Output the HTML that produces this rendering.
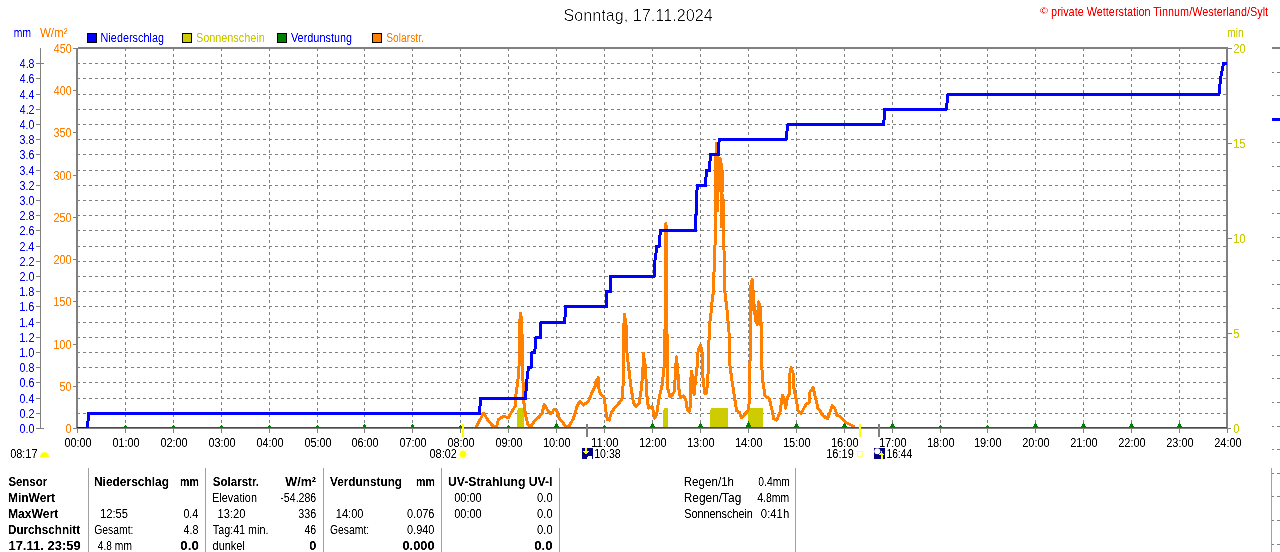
<!DOCTYPE html>
<html lang="de">
<head>
<meta charset="utf-8">
<title>Sonntag, 17.11.2024 - private Wetterstation Tinnum/Westerland/Sylt</title>
<style>
html,body{margin:0;padding:0;background:#fff;}
body{width:1280px;height:552px;overflow:hidden;}
svg{display:block;}
text{white-space:pre;}
</style>
</head>
<body>
<svg width="1280" height="552" viewBox="0 0 1280 552">
<defs><filter id="crisp" x="0" y="0" width="1280" height="552" filterUnits="userSpaceOnUse" color-interpolation-filters="sRGB"><feComponentTransfer><feFuncA type="table" tableValues="0 0.05 0.55 1 1"/></feComponentTransfer></filter><filter id="crisp2" x="0" y="0" width="1280" height="552" filterUnits="userSpaceOnUse" color-interpolation-filters="sRGB"><feComponentTransfer><feFuncA type="table" tableValues="0 0 0.02 0.6 1"/></feComponentTransfer></filter></defs>
<rect width="1280" height="552" fill="#fff"/>
<g shape-rendering="crispEdges">
<g stroke="#808080" stroke-width="1" stroke-dasharray="3 3" fill="none">
<path d="M77 413.5H1226"/>
<path d="M77 398.5H1226"/>
<path d="M77 382.5H1226"/>
<path d="M77 367.5H1226"/>
<path d="M77 352.5H1226"/>
<path d="M77 337.5H1226"/>
<path d="M77 322.5H1226"/>
<path d="M77 306.5H1226"/>
<path d="M77 291.5H1226"/>
<path d="M77 276.5H1226"/>
<path d="M77 261.5H1226"/>
<path d="M77 246.5H1226"/>
<path d="M77 230.5H1226"/>
<path d="M77 215.5H1226"/>
<path d="M77 200.5H1226"/>
<path d="M77 185.5H1226"/>
<path d="M77 170.5H1226"/>
<path d="M77 154.5H1226"/>
<path d="M77 139.5H1226"/>
<path d="M77 124.5H1226"/>
<path d="M77 109.5H1226"/>
<path d="M77 94.5H1226"/>
<path d="M77 78.5H1226"/>
<path d="M77 63.5H1226"/>
<path d="M125.5 48V428"/>
<path d="M173.5 48V428"/>
<path d="M221.5 48V428"/>
<path d="M269.5 48V428"/>
<path d="M317.5 48V428"/>
<path d="M364.5 48V428"/>
<path d="M412.5 48V428"/>
<path d="M460.5 48V428"/>
<path d="M508.5 48V428"/>
<path d="M556.5 48V428"/>
<path d="M604.5 48V428"/>
<path d="M652.5 48V428"/>
<path d="M700.5 48V428"/>
<path d="M748.5 48V428"/>
<path d="M796.5 48V428"/>
<path d="M844.5 48V428"/>
<path d="M892.5 48V428"/>
<path d="M940.5 48V428"/>
<path d="M987.5 48V428"/>
<path d="M1035.5 48V428"/>
<path d="M1083.5 48V428"/>
<path d="M1131.5 48V428"/>
<path d="M1179.5 48V428"/>
</g>
<rect x="78" y="47" width="1150" height="1" fill="#808080" />
<rect x="76" y="48" width="1152" height="1" fill="#808080" />
<rect x="76" y="48" width="2" height="381" fill="#808080" />
<rect x="1226" y="47" width="2" height="382" fill="#808080" />
<rect x="73" y="428" width="1158" height="1" fill="#808080" />
<rect x="517" y="410" width="1" height="18" fill="#cccc00" />
<rect x="518" y="408" width="6" height="20" fill="#cccc00" />
<rect x="663" y="410" width="1" height="18" fill="#cccc00" />
<rect x="664" y="408" width="4" height="20" fill="#cccc00" />
<rect x="710" y="410" width="1" height="18" fill="#cccc00" />
<rect x="711" y="408" width="17" height="20" fill="#cccc00" />
<rect x="748" y="410" width="1" height="18" fill="#cccc00" />
<rect x="749" y="408" width="14" height="20" fill="#cccc00" />
</g>
<defs><clipPath id="plot"><rect x="77" y="49" width="1150" height="379"/></clipPath></defs><g shape-rendering="crispEdges" clip-path="url(#plot)"><polyline points="476.00,427.50 483.50,413.20 488.50,420.80 492.90,426.00 496.60,426.40 498.50,419.50 503.50,416.40 508.50,417.60 511.60,412.00 515.40,405.80 515.80,395.80 517.90,380.80 519.10,364.50 519.80,322.00 520.50,313.50 521.50,318.00 522.00,333.00 522.50,362.00 523.50,399.50 525.40,414.50 527.90,424.50 531.00,426.40 534.75,420.75 539.10,417.00 542.25,413.25 544.10,404.50 548.50,411.40 551.00,413.90 554.10,409.50 556.60,410.10 559.75,419.50 563.50,423.25 565.40,426.40 569.10,426.40 573.50,418.25 577.25,405.75 579.75,401.40 583.50,405.10 588.50,401.40 592.25,392.00 595.40,385.75 596.00,380.75 598.50,377.60 599.10,390.75 601.00,394.50 604.10,397.00 606.00,412.00 607.25,419.50 609.10,420.10 611.60,412.00 616.00,406.40 621.00,400.75 622.90,395.75 623.30,362.00 623.50,331.75 624.50,314.25 626.30,326.75 627.00,353.00 628.00,362.00 631.00,387.00 633.50,403.25 636.00,406.40 639.10,403.25 641.60,387.00 643.00,367.00 643.50,353.60 644.50,362.00 645.50,367.00 646.60,393.25 648.50,408.25 652.25,406.40 654.75,418.25 656.60,414.50 659.10,398.25 662.25,384.50 664.10,365.75 665.00,330.00 666.00,223.00 667.00,330.00 667.25,387.00 669.75,395.75 671.00,397.00 674.10,392.00 675.40,374.50 676.40,356.75 677.90,372.00 679.10,390.75 680.40,397.60 683.50,395.75 686.00,400.75 687.25,409.50 689.10,412.00 690.40,405.75 691.00,377.00 691.60,371.40 692.90,380.75 694.10,394.50 695.40,380.75 697.25,365.75 698.00,352.00 699.00,348.00 700.40,345.50 701.80,349.00 702.50,362.00 702.90,377.00 704.75,393.25 706.60,393.25 707.90,377.00 708.50,362.00 708.80,346.75 709.50,325.50 710.80,314.90 712.00,302.40 713.20,293.00 713.80,277.75 714.90,250.00 715.50,224.00 715.50,170.00 716.30,143.50 717.50,165.00 717.50,211.00 717.50,165.00 719.50,158.50 721.50,165.00 721.50,227.00 721.50,192.00 723.30,200.00 723.30,230.00 724.00,250.00 725.00,293.00 727.00,310.00 729.00,331.75 729.50,362.00 731.60,378.00 734.10,394.50 736.60,410.75 739.10,412.00 741.60,417.60 744.75,414.50 747.90,410.75 749.10,403.25 750.00,362.00 750.60,330.00 750.70,300.00 751.00,285.00 752.30,279.50 753.30,295.00 754.50,310.50 756.00,321.75 757.25,324.25 758.50,301.75 760.20,308.00 761.30,326.75 761.30,362.00 763.10,383.25 765.00,395.75 769.40,398.90 771.90,409.50 773.75,418.90 776.90,420.10 780.00,412.00 781.90,399.50 782.50,395.10 784.40,399.50 785.60,408.25 786.90,399.50 789.40,393.25 790.00,373.25 791.25,367.60 793.10,373.25 793.75,387.00 796.25,399.50 798.10,410.75 801.25,413.25 805.60,405.10 809.40,402.00 810.00,392.00 813.10,387.60 815.00,395.75 818.10,408.90 820.60,411.40 822.50,415.10 827.50,418.90 830.00,412.00 832.25,405.75 835.00,408.90 836.90,415.10 840.00,416.40 843.10,419.50 846.25,422.60 850.00,424.50 853.75,426.40" fill="none" stroke="#ff8000" stroke-width="3" stroke-linejoin="round" stroke-linecap="square"/><g fill="#ff8000"><rect x="714" y="158" width="8" height="12"/><rect x="714" y="170" width="10" height="22"/><polygon points="749.2,310 749.2,288 750.4,280 752.3,278.5 754.1,287.4 755.1,306 756.5,310 757,303 758.4,301 760.3,307.7 761.7,316 762.5,326 759.5,326 757.25,324.5 756,322 754.5,312 752.3,310.5"/></g><rect x="78" y="427" width="1149" height="1" fill="#008000"/><rect x="124" y="426" width="3" height="1" fill="#008000"/><rect x="125" y="425" width="1" height="1" fill="#008000"/><rect x="172" y="426" width="3" height="1" fill="#008000"/><rect x="173" y="425" width="1" height="1" fill="#008000"/><rect x="220" y="426" width="3" height="1" fill="#008000"/><rect x="221" y="425" width="1" height="1" fill="#008000"/><rect x="268" y="426" width="3" height="1" fill="#008000"/><rect x="269" y="425" width="1" height="1" fill="#008000"/><rect x="316" y="426" width="3" height="1" fill="#008000"/><rect x="317" y="425" width="1" height="1" fill="#008000"/><rect x="363" y="426" width="3" height="1" fill="#008000"/><rect x="363" y="425" width="3" height="1" fill="#008000"/><rect x="364" y="424" width="1" height="1" fill="#008000"/><rect x="411" y="426" width="3" height="1" fill="#008000"/><rect x="411" y="425" width="3" height="1" fill="#008000"/><rect x="412" y="424" width="1" height="1" fill="#008000"/><rect x="459" y="426" width="3" height="1" fill="#008000"/><rect x="460" y="425" width="1" height="1" fill="#008000"/><rect x="507" y="426" width="3" height="1" fill="#008000"/><rect x="508" y="425" width="1" height="1" fill="#008000"/><rect x="554" y="426" width="5" height="1" fill="#008000"/><rect x="555" y="425" width="3" height="1" fill="#008000"/><rect x="555" y="424" width="3" height="1" fill="#008000"/><rect x="556" y="423" width="1" height="1" fill="#008000"/><rect x="603" y="426" width="3" height="1" fill="#008000"/><rect x="604" y="425" width="1" height="1" fill="#008000"/><rect x="650" y="426" width="5" height="1" fill="#008000"/><rect x="651" y="425" width="3" height="1" fill="#008000"/><rect x="651" y="424" width="3" height="1" fill="#008000"/><rect x="652" y="423" width="1" height="1" fill="#008000"/><rect x="698" y="426" width="5" height="1" fill="#008000"/><rect x="699" y="425" width="3" height="1" fill="#008000"/><rect x="699" y="424" width="3" height="1" fill="#008000"/><rect x="700" y="423" width="1" height="1" fill="#008000"/><rect x="746" y="426" width="5" height="1" fill="#008000"/><rect x="746" y="425" width="5" height="1" fill="#008000"/><rect x="747" y="424" width="3" height="1" fill="#008000"/><rect x="747" y="423" width="3" height="1" fill="#008000"/><rect x="748" y="422" width="1" height="1" fill="#008000"/><rect x="748" y="421" width="1" height="1" fill="#008000"/><rect x="794" y="426" width="5" height="1" fill="#008000"/><rect x="795" y="425" width="3" height="1" fill="#008000"/><rect x="795" y="424" width="3" height="1" fill="#008000"/><rect x="796" y="423" width="1" height="1" fill="#008000"/><rect x="842" y="426" width="5" height="1" fill="#008000"/><rect x="843" y="425" width="3" height="1" fill="#008000"/><rect x="843" y="424" width="3" height="1" fill="#008000"/><rect x="844" y="423" width="1" height="1" fill="#008000"/><rect x="890" y="426" width="5" height="1" fill="#008000"/><rect x="891" y="425" width="3" height="1" fill="#008000"/><rect x="891" y="424" width="3" height="1" fill="#008000"/><rect x="892" y="423" width="1" height="1" fill="#008000"/><rect x="939" y="426" width="3" height="1" fill="#008000"/><rect x="940" y="425" width="1" height="1" fill="#008000"/><rect x="986" y="426" width="3" height="1" fill="#008000"/><rect x="987" y="425" width="1" height="1" fill="#008000"/><rect x="1033" y="426" width="5" height="1" fill="#008000"/><rect x="1034" y="425" width="3" height="1" fill="#008000"/><rect x="1034" y="424" width="3" height="1" fill="#008000"/><rect x="1035" y="423" width="1" height="1" fill="#008000"/><rect x="1081" y="426" width="5" height="1" fill="#008000"/><rect x="1082" y="425" width="3" height="1" fill="#008000"/><rect x="1082" y="424" width="3" height="1" fill="#008000"/><rect x="1083" y="423" width="1" height="1" fill="#008000"/><rect x="1129" y="426" width="5" height="1" fill="#008000"/><rect x="1130" y="425" width="3" height="1" fill="#008000"/><rect x="1130" y="424" width="3" height="1" fill="#008000"/><rect x="1131" y="423" width="1" height="1" fill="#008000"/><rect x="1177" y="426" width="5" height="1" fill="#008000"/><rect x="1178" y="425" width="3" height="1" fill="#008000"/><rect x="1178" y="424" width="3" height="1" fill="#008000"/><rect x="1179" y="423" width="1" height="1" fill="#008000"/><polyline points="77.00,428.50 87.50,428.50 88.50,413.50 479.50,413.50 480.50,398.50 525.40,398.50 527.25,375.75 528.50,367.50 531.30,367.50 531.80,352.50 534.75,352.50 536.00,337.50 540.40,337.50 540.80,322.50 564.75,322.50 565.50,306.50 606.50,306.50 606.50,291.50 610.50,291.50 610.50,276.50 654.10,276.50 654.75,261.50 656.00,253.40 656.60,246.50 659.10,246.50 659.75,238.40 660.40,230.50 695.50,230.50 695.50,215.00 696.70,214.00 696.70,193.00 697.50,185.50 705.40,185.50 706.00,177.50 706.60,170.50 709.60,170.50 709.90,162.50 710.40,154.50 718.60,154.50 719.10,139.50 786.20,139.50 787.70,124.50 883.80,124.50 884.50,109.50 946.30,109.50 947.90,94.50 1219.00,94.50 1220.50,78.50 1223.50,63.50 1227.00,63.50" fill="none" stroke="#0000ff" stroke-width="3" stroke-linejoin="round" stroke-linecap="square"/></g>
<g shape-rendering="crispEdges">
<rect x="40" y="48" width="1" height="381" fill="#808080" />
<rect x="36" y="428" width="8" height="1" fill="#808080" />
<rect x="36" y="413" width="4" height="1" fill="#808080" />
<rect x="36" y="398" width="4" height="1" fill="#808080" />
<rect x="36" y="382" width="4" height="1" fill="#808080" />
<rect x="36" y="367" width="4" height="1" fill="#808080" />
<rect x="36" y="352" width="4" height="1" fill="#808080" />
<rect x="36" y="337" width="4" height="1" fill="#808080" />
<rect x="36" y="322" width="4" height="1" fill="#808080" />
<rect x="36" y="306" width="4" height="1" fill="#808080" />
<rect x="36" y="291" width="4" height="1" fill="#808080" />
<rect x="36" y="276" width="4" height="1" fill="#808080" />
<rect x="36" y="261" width="4" height="1" fill="#808080" />
<rect x="36" y="246" width="4" height="1" fill="#808080" />
<rect x="36" y="230" width="4" height="1" fill="#808080" />
<rect x="36" y="215" width="4" height="1" fill="#808080" />
<rect x="36" y="200" width="4" height="1" fill="#808080" />
<rect x="36" y="185" width="4" height="1" fill="#808080" />
<rect x="36" y="170" width="4" height="1" fill="#808080" />
<rect x="36" y="154" width="4" height="1" fill="#808080" />
<rect x="36" y="139" width="4" height="1" fill="#808080" />
<rect x="36" y="124" width="4" height="1" fill="#808080" />
<rect x="36" y="109" width="4" height="1" fill="#808080" />
<rect x="36" y="94" width="4" height="1" fill="#808080" />
<rect x="36" y="78" width="4" height="1" fill="#808080" />
<rect x="36" y="63" width="8" height="1" fill="#808080" />
<rect x="73" y="428" width="3" height="1" fill="#808080" />
<rect x="73" y="386" width="3" height="1" fill="#808080" />
<rect x="73" y="344" width="3" height="1" fill="#808080" />
<rect x="73" y="301" width="3" height="1" fill="#808080" />
<rect x="73" y="259" width="3" height="1" fill="#808080" />
<rect x="73" y="217" width="3" height="1" fill="#808080" />
<rect x="73" y="175" width="3" height="1" fill="#808080" />
<rect x="73" y="132" width="3" height="1" fill="#808080" />
<rect x="73" y="90" width="3" height="1" fill="#808080" />
<rect x="73" y="48" width="3" height="1" fill="#808080" />
<rect x="1228" y="428" width="3" height="1" fill="#808080" />
<rect x="1228" y="333" width="4" height="1" fill="#808080" />
<rect x="1228" y="238" width="4" height="1" fill="#808080" />
<rect x="1228" y="143" width="4" height="1" fill="#808080" />
<rect x="1228" y="48" width="4" height="1" fill="#808080" />
<rect x="77" y="429" width="1" height="4" fill="#808080" />
<rect x="125" y="429" width="1" height="4" fill="#808080" />
<rect x="173" y="429" width="1" height="4" fill="#808080" />
<rect x="221" y="429" width="1" height="4" fill="#808080" />
<rect x="269" y="429" width="1" height="4" fill="#808080" />
<rect x="317" y="429" width="1" height="4" fill="#808080" />
<rect x="364" y="429" width="1" height="4" fill="#808080" />
<rect x="412" y="429" width="1" height="4" fill="#808080" />
<rect x="460" y="429" width="1" height="4" fill="#808080" />
<rect x="508" y="429" width="1" height="4" fill="#808080" />
<rect x="556" y="429" width="1" height="4" fill="#808080" />
<rect x="604" y="429" width="1" height="4" fill="#808080" />
<rect x="652" y="429" width="1" height="4" fill="#808080" />
<rect x="700" y="429" width="1" height="4" fill="#808080" />
<rect x="748" y="429" width="1" height="4" fill="#808080" />
<rect x="796" y="429" width="1" height="4" fill="#808080" />
<rect x="844" y="429" width="1" height="4" fill="#808080" />
<rect x="892" y="429" width="1" height="4" fill="#808080" />
<rect x="940" y="429" width="1" height="4" fill="#808080" />
<rect x="987" y="429" width="1" height="4" fill="#808080" />
<rect x="1035" y="429" width="1" height="4" fill="#808080" />
<rect x="1083" y="429" width="1" height="4" fill="#808080" />
<rect x="1131" y="429" width="1" height="4" fill="#808080" />
<rect x="1179" y="429" width="1" height="4" fill="#808080" />
<rect x="1227" y="429" width="1" height="4" fill="#808080" />
<rect x="462" y="424" width="2" height="13" fill="#ffff00" />
<rect x="859" y="424" width="2" height="13" fill="#ffff00" />
<rect x="586" y="424" width="2" height="13" fill="#808080" />
<rect x="878" y="424" width="2" height="13" fill="#808080" />
<rect x="88" y="468" width="1" height="84" fill="#a0a0a0" />
<rect x="205" y="468" width="1" height="84" fill="#a0a0a0" />
<rect x="323" y="468" width="1" height="84" fill="#a0a0a0" />
<rect x="441" y="468" width="1" height="84" fill="#a0a0a0" />
<rect x="559" y="468" width="1" height="84" fill="#a0a0a0" />
<rect x="795" y="468" width="1" height="84" fill="#a0a0a0" />
<rect x="1271" y="468" width="1" height="84" fill="#a0a0a0" />
<rect x="1272" y="47" width="8" height="2" fill="#808080" />
<rect x="1272" y="72" width="2" height="1" fill="#808080" />
<rect x="1277" y="72" width="3" height="1" fill="#808080" />
<rect x="1272" y="95" width="2" height="1" fill="#808080" />
<rect x="1277" y="95" width="3" height="1" fill="#808080" />
<rect x="1272" y="142" width="2" height="1" fill="#808080" />
<rect x="1277" y="142" width="3" height="1" fill="#808080" />
<rect x="1272" y="166" width="2" height="1" fill="#808080" />
<rect x="1277" y="166" width="3" height="1" fill="#808080" />
<rect x="1272" y="190" width="2" height="1" fill="#808080" />
<rect x="1277" y="190" width="3" height="1" fill="#808080" />
<rect x="1272" y="213" width="2" height="1" fill="#808080" />
<rect x="1277" y="213" width="3" height="1" fill="#808080" />
<rect x="1272" y="237" width="2" height="1" fill="#808080" />
<rect x="1277" y="237" width="3" height="1" fill="#808080" />
<rect x="1272" y="260" width="2" height="1" fill="#808080" />
<rect x="1277" y="260" width="3" height="1" fill="#808080" />
<rect x="1272" y="284" width="2" height="1" fill="#808080" />
<rect x="1277" y="284" width="3" height="1" fill="#808080" />
<rect x="1272" y="308" width="2" height="1" fill="#808080" />
<rect x="1277" y="308" width="3" height="1" fill="#808080" />
<rect x="1272" y="331" width="2" height="1" fill="#808080" />
<rect x="1277" y="331" width="3" height="1" fill="#808080" />
<rect x="1272" y="355" width="2" height="1" fill="#808080" />
<rect x="1277" y="355" width="3" height="1" fill="#808080" />
<rect x="1272" y="378" width="2" height="1" fill="#808080" />
<rect x="1277" y="378" width="3" height="1" fill="#808080" />
<rect x="1272" y="402" width="2" height="1" fill="#808080" />
<rect x="1277" y="402" width="3" height="1" fill="#808080" />
<rect x="1272" y="426" width="2" height="1" fill="#808080" />
<rect x="1277" y="426" width="3" height="1" fill="#808080" />
<rect x="1272" y="449" width="2" height="1" fill="#808080" />
<rect x="1277" y="449" width="3" height="1" fill="#808080" />
<rect x="1272" y="473" width="2" height="1" fill="#808080" />
<rect x="1277" y="473" width="3" height="1" fill="#808080" />
<rect x="1272" y="496" width="2" height="1" fill="#808080" />
<rect x="1277" y="496" width="3" height="1" fill="#808080" />
<rect x="1272" y="520" width="2" height="1" fill="#808080" />
<rect x="1277" y="520" width="3" height="1" fill="#808080" />
<rect x="1272" y="544" width="2" height="1" fill="#808080" />
<rect x="1277" y="544" width="3" height="1" fill="#808080" />
<rect x="1272" y="118" width="8" height="3" fill="#0000ff" />
<rect x="87" y="33" width="10" height="10" fill="#000" />
<rect x="88" y="34" width="8" height="8" fill="#0000ff" />
<rect x="182" y="33" width="10" height="10" fill="#000" />
<rect x="183" y="34" width="8" height="8" fill="#cccc00" />
<rect x="277" y="33" width="10" height="10" fill="#000" />
<rect x="278" y="34" width="8" height="8" fill="#008000" />
<rect x="372" y="33" width="10" height="10" fill="#000" />
<rect x="373" y="34" width="8" height="8" fill="#ff8000" />
</g>
<path d="M40 457.5 A4.5 5.5 0 0 1 49 457.5 Z" fill="#ffff00"/><g stroke="#ffff80" stroke-width="1"><path d="M458 449L468 459M468 449L458 459M457.5 454H468.5M463 448.5V459.5"/></g><circle cx="463" cy="454" r="3.2" fill="#ffff00"/><g shape-rendering="crispEdges"><rect x="582" y="448" width="11" height="11" fill="#000080"/><path d="M585 448h2v3h2l-3 4l-3-4h2z" fill="#ffff00"/><path d="M587 459v-2l1-1h3l1 1v2z" fill="#fff"/></g><rect x="857.5" y="451.5" width="5" height="5" fill="none" stroke="#ffff80" stroke-width="1" shape-rendering="crispEdges"/><g shape-rendering="crispEdges"><rect x="874" y="448" width="11" height="11" fill="#000080"/><path d="M881.5 451l2.5 4h-1.5v4h-2v-4h-1.5z" fill="#ffff00"/></g><circle cx="877.3" cy="451.2" r="3" fill="#fff"/>
<g font-family="'Liberation Sans', sans-serif" font-size="12.5" fill="#000" filter="url(#crisp2)">
<text x="563.58" y="21" font-size="16.7" textLength="149.09" lengthAdjust="spacingAndGlyphs">Sonntag, 17.11.2024</text>
</g>
<g font-family="'Liberation Sans', sans-serif" font-size="12.5" fill="#000" filter="url(#crisp)">
<text x="1039.83" y="14" font-size="9.5" fill="#ff0000" textLength="8.44" lengthAdjust="spacingAndGlyphs">©</text>
<text x="1051.11" y="16" fill="#ff0000" textLength="216.96" lengthAdjust="spacingAndGlyphs">private Wetterstation Tinnum/Westerland/Sylt</text>
<text x="13.82" y="37" fill="#0000ff" textLength="17.15" lengthAdjust="spacingAndGlyphs">mm</text>
<text x="39.95" y="37" fill="#ff8000" textLength="27.57" lengthAdjust="spacingAndGlyphs">W/m²</text>
<text x="1227.33" y="37" fill="#cccc00" textLength="16.32" lengthAdjust="spacingAndGlyphs">min</text>
<text x="100.61" y="42" fill="#0000ff" textLength="63.39" lengthAdjust="spacingAndGlyphs">Niederschlag</text>
<text x="196.01" y="42" fill="#cccc00" textLength="68.68" lengthAdjust="spacingAndGlyphs">Sonnenschein</text>
<text x="290.96" y="42" fill="#0000ff" textLength="61.13" lengthAdjust="spacingAndGlyphs">Verdunstung</text>
<text x="386.24" y="42" fill="#ff8000" textLength="37.68" lengthAdjust="spacingAndGlyphs">Solarstr.</text>
<text x="19.58" y="433" fill="#0000ff" textLength="14.82" lengthAdjust="spacingAndGlyphs">0.0</text>
<text x="19.58" y="418" fill="#0000ff" textLength="14.96" lengthAdjust="spacingAndGlyphs">0.2</text>
<text x="19.59" y="403" fill="#0000ff" textLength="14.72" lengthAdjust="spacingAndGlyphs">0.4</text>
<text x="19.58" y="387" fill="#0000ff" textLength="14.88" lengthAdjust="spacingAndGlyphs">0.6</text>
<text x="19.58" y="372" fill="#0000ff" textLength="14.88" lengthAdjust="spacingAndGlyphs">0.8</text>
<text x="19.17" y="357" fill="#0000ff" textLength="15.25" lengthAdjust="spacingAndGlyphs">1.0</text>
<text x="19.16" y="342" fill="#0000ff" textLength="15.40" lengthAdjust="spacingAndGlyphs">1.2</text>
<text x="19.17" y="327" fill="#0000ff" textLength="15.14" lengthAdjust="spacingAndGlyphs">1.4</text>
<text x="19.16" y="311" fill="#0000ff" textLength="15.31" lengthAdjust="spacingAndGlyphs">1.6</text>
<text x="19.16" y="296" fill="#0000ff" textLength="15.31" lengthAdjust="spacingAndGlyphs">1.8</text>
<text x="19.46" y="281" fill="#0000ff" textLength="14.95" lengthAdjust="spacingAndGlyphs">2.0</text>
<text x="19.46" y="266" fill="#0000ff" textLength="15.09" lengthAdjust="spacingAndGlyphs">2.2</text>
<text x="19.47" y="251" fill="#0000ff" textLength="14.84" lengthAdjust="spacingAndGlyphs">2.4</text>
<text x="19.46" y="235" fill="#0000ff" textLength="15.00" lengthAdjust="spacingAndGlyphs">2.6</text>
<text x="19.46" y="220" fill="#0000ff" textLength="15.00" lengthAdjust="spacingAndGlyphs">2.8</text>
<text x="19.6" y="205" fill="#0000ff" textLength="14.81" lengthAdjust="spacingAndGlyphs">3.0</text>
<text x="19.59" y="190" fill="#0000ff" textLength="14.95" lengthAdjust="spacingAndGlyphs">3.2</text>
<text x="19.6" y="175" fill="#0000ff" textLength="14.71" lengthAdjust="spacingAndGlyphs">3.4</text>
<text x="19.59" y="159" fill="#0000ff" textLength="14.87" lengthAdjust="spacingAndGlyphs">3.6</text>
<text x="19.59" y="144" fill="#0000ff" textLength="14.87" lengthAdjust="spacingAndGlyphs">3.8</text>
<text x="19.77" y="129" fill="#0000ff" textLength="14.63" lengthAdjust="spacingAndGlyphs">4.0</text>
<text x="19.77" y="114" fill="#0000ff" textLength="14.76" lengthAdjust="spacingAndGlyphs">4.2</text>
<text x="19.77" y="99" fill="#0000ff" textLength="14.53" lengthAdjust="spacingAndGlyphs">4.4</text>
<text x="19.77" y="83" fill="#0000ff" textLength="14.69" lengthAdjust="spacingAndGlyphs">4.6</text>
<text x="19.77" y="68" fill="#0000ff" textLength="14.69" lengthAdjust="spacingAndGlyphs">4.8</text>
<text x="65.47" y="433" fill="#ff8000" textLength="6.15" lengthAdjust="spacingAndGlyphs">0</text>
<text x="59.57" y="391" fill="#ff8000" textLength="12.04" lengthAdjust="spacingAndGlyphs">50</text>
<text x="53.16" y="349" fill="#ff8000" textLength="18.46" lengthAdjust="spacingAndGlyphs">100</text>
<text x="53.16" y="306" fill="#ff8000" textLength="18.46" lengthAdjust="spacingAndGlyphs">150</text>
<text x="53.46" y="264" fill="#ff8000" textLength="18.16" lengthAdjust="spacingAndGlyphs">200</text>
<text x="53.46" y="222" fill="#ff8000" textLength="18.16" lengthAdjust="spacingAndGlyphs">250</text>
<text x="53.59" y="180" fill="#ff8000" textLength="18.02" lengthAdjust="spacingAndGlyphs">300</text>
<text x="53.59" y="137" fill="#ff8000" textLength="18.02" lengthAdjust="spacingAndGlyphs">350</text>
<text x="53.76" y="95" fill="#ff8000" textLength="17.84" lengthAdjust="spacingAndGlyphs">400</text>
<text x="53.76" y="53" fill="#ff8000" textLength="17.84" lengthAdjust="spacingAndGlyphs">450</text>
<text x="1233.37" y="433" fill="#cccc00" textLength="6.15" lengthAdjust="spacingAndGlyphs">0</text>
<text x="1233.35" y="338" fill="#cccc00" textLength="6.20" lengthAdjust="spacingAndGlyphs">5</text>
<text x="1232.93" y="243" fill="#cccc00" textLength="12.70" lengthAdjust="spacingAndGlyphs">10</text>
<text x="1232.93" y="148" fill="#cccc00" textLength="12.74" lengthAdjust="spacingAndGlyphs">15</text>
<text x="1233.24" y="53" fill="#cccc00" textLength="12.38" lengthAdjust="spacingAndGlyphs">20</text>
<text x="64.38" y="447" textLength="27.24" lengthAdjust="spacingAndGlyphs">00:00</text>
<text x="112.38" y="447" textLength="27.24" lengthAdjust="spacingAndGlyphs">01:00</text>
<text x="160.38" y="447" textLength="27.24" lengthAdjust="spacingAndGlyphs">02:00</text>
<text x="208.38" y="447" textLength="27.24" lengthAdjust="spacingAndGlyphs">03:00</text>
<text x="256.38" y="447" textLength="27.24" lengthAdjust="spacingAndGlyphs">04:00</text>
<text x="304.38" y="447" textLength="27.24" lengthAdjust="spacingAndGlyphs">05:00</text>
<text x="351.38" y="447" textLength="27.24" lengthAdjust="spacingAndGlyphs">06:00</text>
<text x="399.38" y="447" textLength="27.24" lengthAdjust="spacingAndGlyphs">07:00</text>
<text x="447.38" y="447" textLength="27.24" lengthAdjust="spacingAndGlyphs">08:00</text>
<text x="495.38" y="447" textLength="27.24" lengthAdjust="spacingAndGlyphs">09:00</text>
<text x="542.96" y="447" textLength="27.66" lengthAdjust="spacingAndGlyphs">10:00</text>
<text x="590.96" y="447" textLength="27.66" lengthAdjust="spacingAndGlyphs">11:00</text>
<text x="638.96" y="447" textLength="27.66" lengthAdjust="spacingAndGlyphs">12:00</text>
<text x="686.96" y="447" textLength="27.66" lengthAdjust="spacingAndGlyphs">13:00</text>
<text x="734.96" y="447" textLength="27.66" lengthAdjust="spacingAndGlyphs">14:00</text>
<text x="782.96" y="447" textLength="27.66" lengthAdjust="spacingAndGlyphs">15:00</text>
<text x="830.96" y="447" textLength="27.66" lengthAdjust="spacingAndGlyphs">16:00</text>
<text x="878.96" y="447" textLength="27.66" lengthAdjust="spacingAndGlyphs">17:00</text>
<text x="926.96" y="447" textLength="27.66" lengthAdjust="spacingAndGlyphs">18:00</text>
<text x="973.96" y="447" textLength="27.66" lengthAdjust="spacingAndGlyphs">19:00</text>
<text x="1022.25" y="447" textLength="27.36" lengthAdjust="spacingAndGlyphs">20:00</text>
<text x="1070.25" y="447" textLength="27.36" lengthAdjust="spacingAndGlyphs">21:00</text>
<text x="1118.25" y="447" textLength="27.36" lengthAdjust="spacingAndGlyphs">22:00</text>
<text x="1166.25" y="447" textLength="27.36" lengthAdjust="spacingAndGlyphs">23:00</text>
<text x="1214.25" y="447" textLength="27.36" lengthAdjust="spacingAndGlyphs">24:00</text>
<text x="10.17" y="458" textLength="27.37" lengthAdjust="spacingAndGlyphs">08:17</text>
<text x="429.47" y="458" textLength="27.37" lengthAdjust="spacingAndGlyphs">08:02</text>
<text x="594.2" y="458" textLength="26.46" lengthAdjust="spacingAndGlyphs">10:38</text>
<text x="826.16" y="458" textLength="27.66" lengthAdjust="spacingAndGlyphs">16:19</text>
<text x="886.42" y="458" textLength="25.78" lengthAdjust="spacingAndGlyphs">16:44</text>
<text x="8.38" y="486" font-weight="bold" textLength="38.78" lengthAdjust="spacingAndGlyphs">Sensor</text>
<text x="7.91" y="502" font-weight="bold" textLength="47.23" lengthAdjust="spacingAndGlyphs">MinWert</text>
<text x="7.9" y="518" font-weight="bold" textLength="50.54" lengthAdjust="spacingAndGlyphs">MaxWert</text>
<text x="7.93" y="534" font-weight="bold" textLength="72.21" lengthAdjust="spacingAndGlyphs">Durchschnitt</text>
<text x="8.4" y="550" font-weight="bold" textLength="72.37" lengthAdjust="spacingAndGlyphs">17.11. 23:59</text>
<text x="93.91" y="486" font-weight="bold" textLength="75.19" lengthAdjust="spacingAndGlyphs">Niederschlag</text>
<text x="180.11" y="486" font-weight="bold" textLength="18.83" lengthAdjust="spacingAndGlyphs">mm</text>
<text x="99.95" y="518" textLength="28.01" lengthAdjust="spacingAndGlyphs">12:55</text>
<text x="183.38" y="518" textLength="14.93" lengthAdjust="spacingAndGlyphs">0.4</text>
<text x="94.18" y="534" textLength="39.27" lengthAdjust="spacingAndGlyphs">Gesamt:</text>
<text x="183.56" y="534" textLength="14.90" lengthAdjust="spacingAndGlyphs">4.8</text>
<text x="97.77" y="550" textLength="34.19" lengthAdjust="spacingAndGlyphs">4.8 mm</text>
<text x="180.28" y="550" font-weight="bold" textLength="18.55" lengthAdjust="spacingAndGlyphs">0.0</text>
<text x="212.68" y="486" font-weight="bold" textLength="46.41" lengthAdjust="spacingAndGlyphs">Solarstr.</text>
<text x="285.29" y="486" font-weight="bold" textLength="30.76" lengthAdjust="spacingAndGlyphs">W/m²</text>
<text x="212.1" y="502" textLength="44.89" lengthAdjust="spacingAndGlyphs">Elevation</text>
<text x="280.33" y="502" textLength="35.92" lengthAdjust="spacingAndGlyphs">-54.286</text>
<text x="217.45" y="518" textLength="27.97" lengthAdjust="spacingAndGlyphs">13:20</text>
<text x="298.29" y="518" textLength="17.97" lengthAdjust="spacingAndGlyphs">336</text>
<text x="212.77" y="534" textLength="55.70" lengthAdjust="spacingAndGlyphs">Tag:41 min.</text>
<text x="304.47" y="534" textLength="11.79" lengthAdjust="spacingAndGlyphs">46</text>
<text x="212.54" y="550" textLength="32.39" lengthAdjust="spacingAndGlyphs">dunkel</text>
<text x="309.2" y="550" font-weight="bold" textLength="7.11" lengthAdjust="spacingAndGlyphs">0</text>
<text x="329.93" y="486" font-weight="bold" textLength="72.16" lengthAdjust="spacingAndGlyphs">Verdunstung</text>
<text x="416.01" y="486" font-weight="bold" textLength="18.83" lengthAdjust="spacingAndGlyphs">mm</text>
<text x="335.86" y="518" textLength="27.56" lengthAdjust="spacingAndGlyphs">14:00</text>
<text x="407.07" y="518" textLength="27.40" lengthAdjust="spacingAndGlyphs">0.076</text>
<text x="329.98" y="534" textLength="39.27" lengthAdjust="spacingAndGlyphs">Gesamt:</text>
<text x="407.07" y="534" textLength="27.34" lengthAdjust="spacingAndGlyphs">0.940</text>
<text x="402.5" y="550" font-weight="bold" textLength="32.01" lengthAdjust="spacingAndGlyphs">0.000</text>
<text x="447.98" y="486" font-weight="bold" textLength="104.54" lengthAdjust="spacingAndGlyphs">UV-Strahlung UV-I</text>
<text x="454.27" y="502" textLength="27.44" lengthAdjust="spacingAndGlyphs">00:00</text>
<text x="537.06" y="502" textLength="15.56" lengthAdjust="spacingAndGlyphs">0.0</text>
<text x="454.27" y="518" textLength="27.44" lengthAdjust="spacingAndGlyphs">00:00</text>
<text x="537.06" y="518" textLength="15.56" lengthAdjust="spacingAndGlyphs">0.0</text>
<text x="537.06" y="534" textLength="15.56" lengthAdjust="spacingAndGlyphs">0.0</text>
<text x="534.18" y="550" font-weight="bold" textLength="18.55" lengthAdjust="spacingAndGlyphs">0.0</text>
<text x="683.75" y="486" textLength="50.29" lengthAdjust="spacingAndGlyphs">Regen/1h</text>
<text x="758.3" y="486" textLength="31.57" lengthAdjust="spacingAndGlyphs">0.4mm</text>
<text x="683.75" y="502" textLength="57.50" lengthAdjust="spacingAndGlyphs">Regen/Tag</text>
<text x="757.27" y="502" textLength="31.91" lengthAdjust="spacingAndGlyphs">4.8mm</text>
<text x="684.21" y="518" textLength="68.68" lengthAdjust="spacingAndGlyphs">Sonnenschein</text>
<text x="760.86" y="518" textLength="28.37" lengthAdjust="spacingAndGlyphs">0:41h</text>
</g>
</svg>
</body>
</html>
